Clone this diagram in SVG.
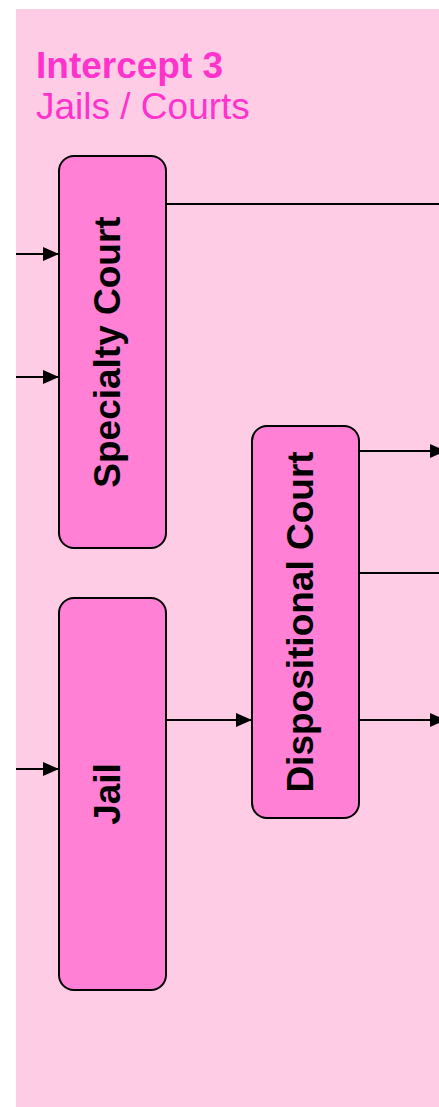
<svg xmlns="http://www.w3.org/2000/svg" width="439" height="1107" viewBox="0 0 439 1107">
<style>
.box{fill:#FF80D5;stroke:#000;stroke-width:2}
.lbl{font-family:"Liberation Sans",Arial,sans-serif;font-weight:bold;font-size:37px;fill:#000;text-anchor:middle}
.title{font-family:"Liberation Sans",Arial,sans-serif;font-size:37px;fill:#FF33CC}
.c{stroke:#000;stroke-width:2;fill:none}
</style>
<defs>
<marker id="ah" markerWidth="16" markerHeight="14" refX="16" refY="7" orient="auto" markerUnits="userSpaceOnUse">
<path d="M0,0 L16,7 L0,14 Z" fill="#000"/>
</marker>
</defs>
<rect x="16" y="9" width="423" height="1098" fill="#FFCCE6"/>
<text class="title" x="36" y="78" font-weight="bold">Intercept 3</text>
<text class="title" x="36" y="119">Jails / Courts</text>
<g id="connectors">
<line class="c" x1="16" y1="254" x2="59" y2="254" marker-end="url(#ah)"/>
<line class="c" x1="16" y1="377" x2="59" y2="377" marker-end="url(#ah)"/>
<line class="c" x1="16" y1="769" x2="59" y2="769" marker-end="url(#ah)"/>
<line class="c" x1="166" y1="204" x2="439" y2="204"/>
<line class="c" x1="166" y1="720" x2="252" y2="720" marker-end="url(#ah)"/>
<line class="c" x1="359" y1="451" x2="446" y2="451" marker-end="url(#ah)"/>
<line class="c" x1="359" y1="573" x2="439" y2="573"/>
<line class="c" x1="359" y1="720" x2="446" y2="720" marker-end="url(#ah)"/>
</g>
<g id="specialty-court">
<rect class="box" x="59" y="156" width="107" height="392" rx="15"/>
<text class="lbl" transform="translate(120,352) rotate(-90)">Specialty Court</text>
</g>
<g id="jail">
<rect class="box" x="59" y="598" width="107" height="392" rx="15"/>
<text class="lbl" transform="translate(120,794) rotate(-90)">Jail</text>
</g>
<g id="dispositional-court">
<rect class="box" x="252" y="426" width="107" height="392" rx="15"/>
<text class="lbl" transform="translate(313,622) rotate(-90)">Dispositional Court</text>
</g>
</svg>
